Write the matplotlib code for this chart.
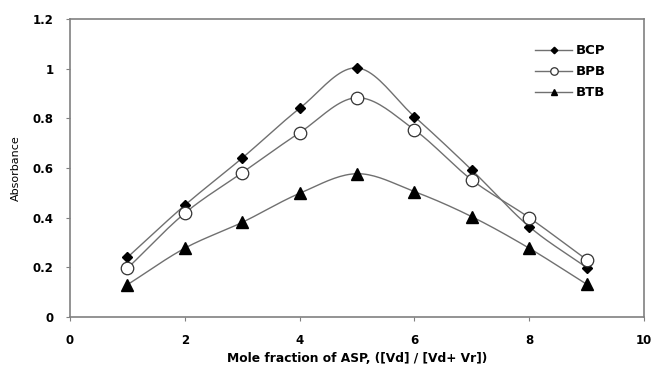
import numpy as np
import matplotlib
matplotlib.use("Agg")
import matplotlib.pyplot as plt

x = [1, 2, 3, 4, 5, 6, 7, 8, 9]
bcp = [0.24, 0.45, 0.64, 0.84, 1.003, 0.807, 0.592, 0.364, 0.199]
bpb = [0.196, 0.418, 0.581, 0.742, 0.883, 0.754, 0.552, 0.40, 0.231]
btb = [0.13, 0.277, 0.381, 0.498, 0.577, 0.505, 0.404, 0.277, 0.132]
labels = ["BCP", "BPB", "BTB"]
xticks = [0, 2, 4, 6, 8, 10]
yticks = [0, 0.2, 0.4, 0.6, 0.8, 1, 1.2]
ytick_labels = ["0", "0.2", "0.4", "0.6", "0.8", "1", "1.2"]

plt.rcParams['font.family'] = ['DejaVu Sans']


def smooth(xs, ys, n=20):
    xs = np.asarray(xs, float)
    ys = np.asarray(ys, float)
    px = np.concatenate([[2 * xs[0] - xs[1]], xs, [2 * xs[-1] - xs[-2]]])
    py = np.concatenate([[2 * ys[0] - ys[1]], ys, [2 * ys[-1] - ys[-2]]])
    ox, oy = [], []
    for i in range(1, len(px) - 2):
        t = np.linspace(0, 1, n, endpoint=False)
        for arr, out in ((px, ox), (py, oy)):
            p0, p1, p2, p3 = arr[i - 1], arr[i], arr[i + 1], arr[i + 2]
            out.extend(0.5 * ((2 * p1) + (-p0 + p2) * t + (2 * p0 - 5 * p1 + 4 * p2 - p3) * t ** 2
                              + (-p0 + 3 * p1 - 3 * p2 + p3) * t ** 3))
    ox.append(xs[-1]); oy.append(ys[-1])
    return ox, oy


fig = plt.figure(figsize=(6.52, 3.65), dpi=100)
ax = fig.add_axes([70 / 652, 1 - 317 / 365, 574 / 652, 298 / 365])

lc = "#707070"
styles = [
    dict(marker="D", ms=5.5, mfc="black", mec="black"),
    dict(marker="o", ms=9.0, mfc="white", mec="#333333", mew=0.9),
    dict(marker="^", ms=8.3, mfc="black", mec="black"),
]
for ys, lab, st in zip([bcp, bpb, btb], labels, styles):
    sx, sy = smooth(x, ys)
    ax.plot(sx, sy, color=lc, lw=1.0, zorder=2)
    ax.plot(x, ys, ls="none", zorder=3, **st)
    ax.plot([], [], color=lc, lw=1.0, label=lab, **st)

ax.set_xlim(0, 10)
ax.set_ylim(0, 1.2)
ax.set_xticks(xticks)
ax.set_xticklabels([str(v) for v in xticks])
ax.set_yticks(yticks)
ax.set_yticklabels(ytick_labels)
for s in ax.spines.values():
    s.set_color("#808080")
    s.set_linewidth(1.2)
ax.tick_params(direction="out", length=3, width=0.8, color="#808080",
               labelsize=8.5, pad=9)
for t in ax.get_xticklabels() + ax.get_yticklabels():
    t.set_fontweight("bold")
ax.set_xlabel("Mole fraction of ASP, ([Vd] / [Vd+ Vr])", fontsize=8.8, fontweight="bold", labelpad=4)
ax.set_ylabel("Absorbance", fontsize=8, labelpad=8)

leg = ax.legend(loc="upper left", bbox_to_anchor=(0.79, 0.955), frameon=False,
                handlelength=2.8, handletextpad=0.3, labelspacing=0.6, markerscale=0.6,
                prop=dict(weight="bold", size=9.5))

fig.savefig("out.png", dpi=100)
